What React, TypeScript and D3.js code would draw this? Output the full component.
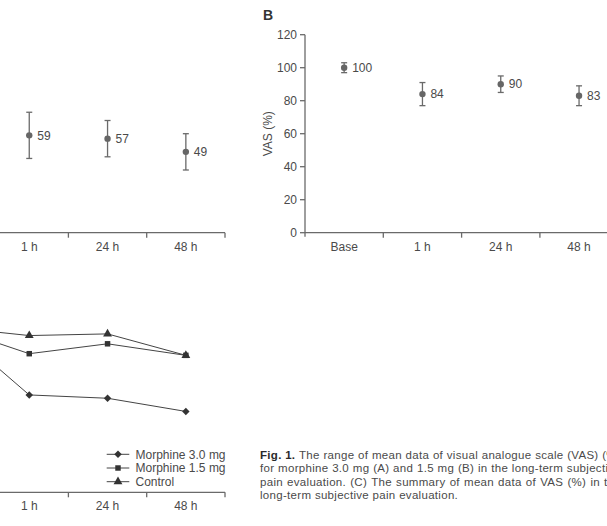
import React, { useEffect, useRef } from 'react';
import * as d3 from 'd3';

// time points on the x axis
const categories = ['Base', '1 h', '24 h', '48 h'];
const yTicks = [0, 20, 40, 60, 80, 100, 120];

// VAS (%) means and error ranges
const morphine30Mean = [100, 59, 57, 49];
const morphine30Err = [3, 14, 11, 11];
const morphine15Mean = [100, 84, 90, 83];
const morphine15Err = [3, 7, 5, 6];
const controlMean = [100, 95, 96, 83];

const seriesNames = ['Morphine 3.0 mg', 'Morphine 1.5 mg', 'Control'];

const captionLines = [
  ['Fig. 1.', 'The', 'range', 'of', 'mean', 'data', 'of', 'visual', 'analogue', 'scale', '(VAS)', '(%)'],
  ['for', 'morphine', '3.0', 'mg', '(A)', 'and', '1.5', 'mg', '(B)', 'in', 'the', 'long-term', 'subjective'],
  ['pain', 'evaluation.', '(C)', 'The', 'summary', 'of', 'mean', 'data', 'of', 'VAS', '(%)', 'in', 'the'],
  ['long-term', 'subjective', 'pain', 'evaluation.'],
];

const W = 607;
const H = 526;
const AXIS = '#6a6a6a';
const INK = '#4a4a4a';
const FONT = '"Liberation Sans", Arial, sans-serif';

export default function App() {
  const ref = useRef<SVGSVGElement>(null);

  useEffect(() => {
    const svg = d3.select(ref.current);
    svg.selectAll('*').remove();

    const band = 78.3;
    const xB = d3.scaleBand().domain(categories).range([305, 305 + 4 * band]);
    const xA = d3.scaleBand().domain(categories).range([225 - 4 * band, 225]);
    const yTop = d3.scaleLinear().domain([0, 120]).range([232.7, 34.7]);
    const yC = d3.scaleLinear().domain([0, 120]).range([492.3, 294.3]);
    const cx = (x: d3.ScaleBand<string>, c: string) => (x(c) as number) + x.bandwidth() / 2;
    // labels left of the page edge are never drawn
    const onPage = (x: number) => x >= 0;

    const axes = (x: d3.ScaleBand<string>, y: d3.ScaleLinear<number, number>, title?: string) => {
      const g = svg.append('g').attr('font-family', FONT);
      const [x0, x1] = x.range();
      const y0 = y(0);
      // y axis
      g.append('line').attr('x1', x0).attr('x2', x0).attr('y1', y(120)).attr('y2', y0 + 4)
        .attr('stroke', AXIS).attr('stroke-width', 1.3);
      yTicks.forEach((t) => {
        g.append('line').attr('x1', x0 - 5).attr('x2', x0).attr('y1', y(t)).attr('y2', y(t))
          .attr('stroke', AXIS).attr('stroke-width', 1.3);
        if (onPage(x0 - 30)) {
          g.append('text').attr('x', x0 - 8).attr('y', y(t)).attr('dy', '0.35em')
            .attr('text-anchor', 'end').attr('font-size', 12).attr('fill', INK).text(t);
        }
      });
      // x axis
      g.append('line').attr('x1', x0).attr('x2', x1).attr('y1', y0).attr('y2', y0)
        .attr('stroke', AXIS).attr('stroke-width', 1.3);
      categories.forEach((c) => {
        const bx = (x(c) as number) + x.bandwidth();
        g.append('line').attr('x1', bx).attr('x2', bx).attr('y1', y0).attr('y2', y0 + 5)
          .attr('stroke', AXIS).attr('stroke-width', 1.3);
        if (onPage(cx(x, c) - 15)) {
          g.append('text').attr('x', cx(x, c)).attr('y', y0 + 18).attr('text-anchor', 'middle')
            .attr('font-size', 12).attr('fill', INK).text(c);
        }
      });
      if (title && onPage(x0 - 45)) {
        g.append('text').attr('transform', `translate(${x0 - 33},${(y(0) + y(120)) / 2}) rotate(-90)`)
          .attr('text-anchor', 'middle').attr('font-size', 12).attr('fill', INK).text(title);
      }
    };

    const errorPanel = (x: d3.ScaleBand<string>, means: number[], errs: number[]) => {
      const g = svg.append('g').attr('font-family', FONT);
      categories.forEach((c, i) => {
        const px = cx(x, c);
        const lo = yTop(means[i] - errs[i]);
        const hi = yTop(means[i] + errs[i]);
        g.append('line').attr('x1', px).attr('x2', px).attr('y1', lo).attr('y2', hi)
          .attr('stroke', AXIS).attr('stroke-width', 1.3);
        [lo, hi].forEach((yy) => g.append('line').attr('x1', px - 3).attr('x2', px + 3)
          .attr('y1', yy).attr('y2', yy).attr('stroke', AXIS).attr('stroke-width', 1.3));
        g.append('circle').attr('cx', px).attr('cy', yTop(means[i])).attr('r', 3.2).attr('fill', '#666');
        if (onPage(px + 8)) {
          g.append('text').attr('x', px + 8).attr('y', yTop(means[i])).attr('dy', '0.35em')
            .attr('font-size', 12).attr('fill', INK).text(means[i]);
        }
      });
    };

    // panel A (morphine 3.0 mg) and panel B (morphine 1.5 mg)
    axes(xA, yTop, 'VAS (%)');
    errorPanel(xA, morphine30Mean, morphine30Err);
    axes(xB, yTop, 'VAS (%)');
    errorPanel(xB, morphine15Mean, morphine15Err);
    svg.append('text').attr('x', 263).attr('y', 20).attr('font-family', FONT)
      .attr('font-weight', 'bold').attr('font-size', 14).attr('fill', '#333').text('B');

    // panel C: summary lines; diamond is a square turned 45 degrees
    axes(xA, yC);
    const symbols = [d3.symbolSquare, d3.symbolSquare, d3.symbolTriangle];
    const sizes = [28, 30, 34];
    const turn = [45, 0, 0];
    const line = d3.line<number>().x((_, i) => cx(xA, categories[i])).y((v) => yC(v));
    [morphine30Mean, morphine15Mean, controlMean].forEach((vals, s) => {
      svg.append('path').attr('d', line(vals)).attr('fill', 'none').attr('stroke', '#444').attr('stroke-width', 1);
      vals.forEach((v, i) => {
        svg.append('path').attr('d', d3.symbol(symbols[s], sizes[s])())
          .attr('transform', `translate(${cx(xA, categories[i])},${yC(v)}) rotate(${turn[s]})`)
          .attr('fill', '#333');
      });
    });

    const legend = svg.append('g').attr('font-family', FONT);
    seriesNames.forEach((name, s) => {
      const ly = 454.3 + s * 13.7;
      legend.append('line').attr('x1', 106.7).attr('x2', 129.3).attr('y1', ly).attr('y2', ly)
        .attr('stroke', '#444').attr('stroke-width', 1);
      legend.append('path').attr('d', d3.symbol(symbols[s], sizes[s])())
        .attr('transform', `translate(118,${ly}) rotate(${turn[s]})`).attr('fill', '#333');
      legend.append('text').attr('x', 135.5).attr('y', ly).attr('dy', '0.35em')
        .attr('font-size', 12).attr('fill', INK).text(name);
    });

    // caption: one text block, words justified between left and right edges
    const left = 260;
    const right = 621;
    const capFont = (sel: d3.Selection<SVGTextElement, unknown, null, undefined>) =>
      sel.attr('font-family', FONT).attr('font-size', 11.5).attr('letter-spacing', 0.3);
    const cap = capFont(svg.append('text')).attr('fill', '#4a4a4a');
    const probe = capFont(svg.append('text'));
    const measure = (w: string, bold: boolean) => {
      probe.attr('font-weight', bold ? 'bold' : 'normal').text(w);
      return (probe.node() as SVGTextElement).getComputedTextLength();
    };
    captionLines.forEach((words, li) => {
      const ly = 455 + li * 13.3;
      const widths = words.map((w) => measure(w, w === 'Fig. 1.'));
      const last = li === captionLines.length - 1;
      const gap = last ? 3.6 : (right - left - d3.sum(widths)) / (words.length - 1);
      let xx = left;
      words.forEach((w, i) => {
        const bold = w === 'Fig. 1.';
        cap.append('tspan').attr('x', xx).attr('y', ly).attr('dy', '0.35em')
          .attr('font-weight', bold ? 'bold' : 'normal').attr('fill', bold ? '#2a2a2a' : null).text(w);
        xx += widths[i] + gap;
      });
    });
    probe.remove();
  }, []);

  return (
    <svg ref={ref} width={W} height={H}
      style={{ position: 'absolute', left: 0, top: 0, background: '#fff' }} />
  );
}
